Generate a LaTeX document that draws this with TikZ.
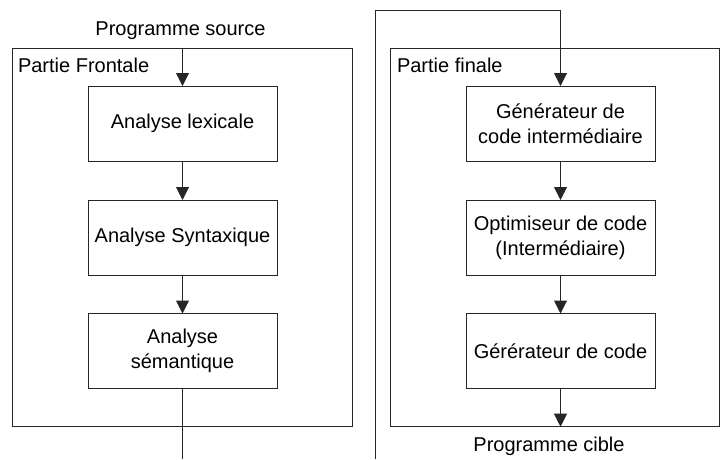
\documentclass[tikz,border=0pt]{standalone}
\usepackage{fontspec}
\setmainfont{Liberation Sans}
\usetikzlibrary{arrows.meta}
\begin{document}
\begin{tikzpicture}[x=1pt,y=-1pt,
  font=\fontsize{20}{25}\selectfont,
  line width=1pt,
  conn/.style={draw=black!85,-{Triangle[width=13pt,length=13pt]}},
  plain/.style={draw=black!85},
  stage/.style={draw=black!85,minimum width=189pt,minimum height=75pt,inner sep=0pt,outer sep=0pt,align=center},
  container/.style={draw=black!85,inner sep=0pt,outer sep=0pt,anchor=north west},
  lbl/.style={inner sep=0pt,outer sep=0pt}]
\useasboundingbox (0,0) rectangle (720,459);
% containers
\node[container,minimum width=339.5pt,minimum height=378.7pt] (lc) at (12.5,48) {};
\node[container,minimum width=328.6pt,minimum height=378.7pt] (rc) at (390.7,48) {};
\node[lbl,anchor=base west] (lcl) at (18,72.5) {Partie Frontale};
\node[lbl,anchor=base west] (rcl) at (397,72.5) {Partie finale};
% left stages
\node[stage] (l1) at (182.5,123.5) {Analyse lexicale};
\node[stage] (l2) at (182.5,237.5) {Analyse Syntaxique};
\node[stage] (l3) at (182.5,351) {Analyse\\s\'emantique};
% right stages
\node[stage] (r1) at (560.5,123.5) {G\'en\'erateur de\\code interm\'ediaire};
\node[stage] (r2) at (560.5,237.5) {Optimiseur de code\\(Interm\'ediaire)};
\node[stage] (r3) at (560.5,351) {G\'er\'erateur de code};
% texts
\node[lbl,anchor=base] (src) at (180.5,35.7) {Programme source};
\node[lbl,anchor=base] (tgt) at (549,451.7) {Programme cible};
% coordinates
\coordinate (out) at (182.5,459);
\coordinate (fb0) at (375,459);
\coordinate (fbtop) at (375,10.7);
% connectors
\draw[conn] (l1.north |- lc.north) -- (l1.north);
\draw[conn] (l1) -- (l2);
\draw[conn] (l2) -- (l3);
\draw[plain] (l3.south) -- (out);
\draw[conn] (fb0) -- (fbtop) -| (r1.north);
\draw[conn] (r1) -- (r2);
\draw[conn] (r2) -- (r3);
\draw[conn] (r3.south) -- (r3.south |- rc.south);
\end{tikzpicture}
\end{document}
